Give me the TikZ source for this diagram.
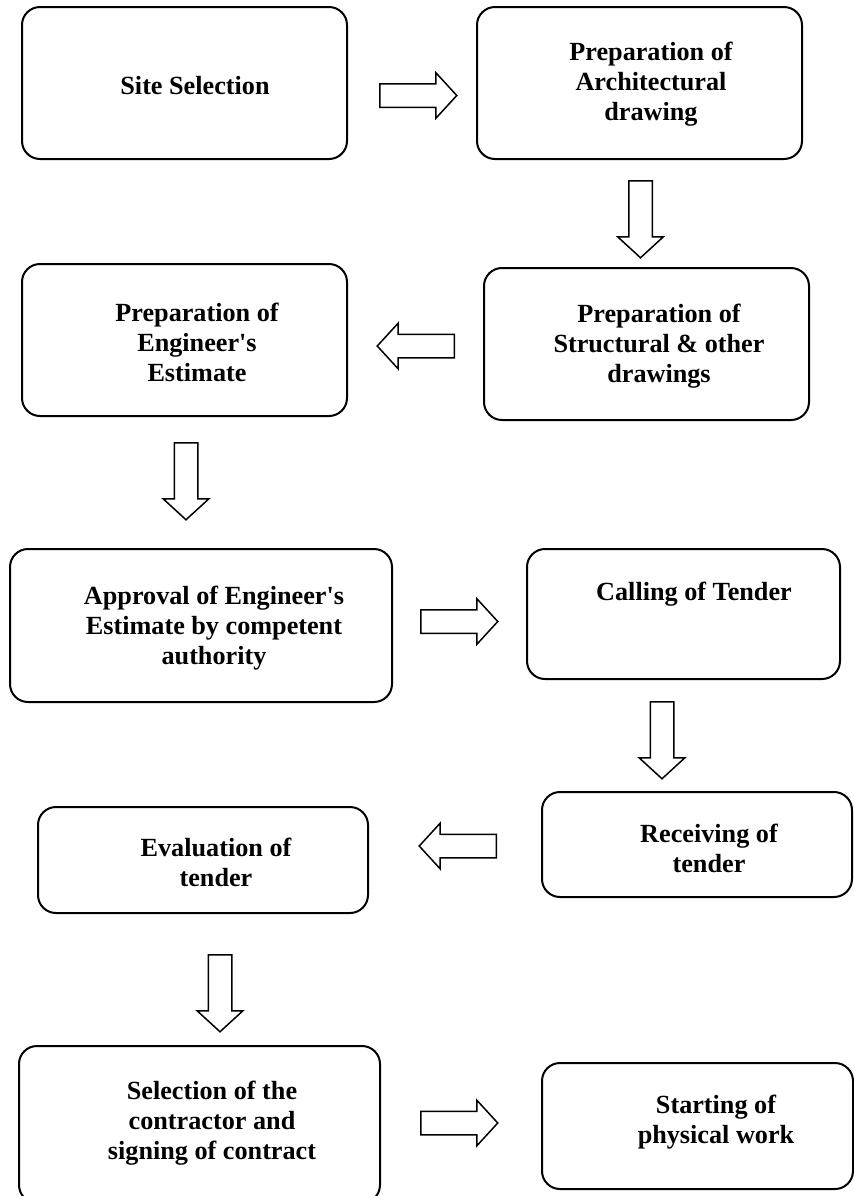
\documentclass[tikz,border=0pt]{standalone}
\usepackage{fontspec}
\setmainfont{Liberation Serif}
\usetikzlibrary{shapes.arrows}
\tikzset{
  stage/.style={draw, line width=1pt, rounded corners=9pt, inner sep=0pt},
  caption/.style={font=\bfseries\fontsize{13.1}{15}\selectfont, align=center, inner sep=0pt},
  hollow/.style={draw, fill=white, single arrow, line width=0.75pt, anchor=tail,
                 single arrow head extend=5.5pt, single arrow head indent=0pt,
                 single arrow tip angle=95, inner sep=5.5pt, minimum height=38.5pt},
}
\begin{document}
\begin{tikzpicture}[x=0.5pt, y=-0.5pt,
      down/.style={hollow, shape border rotate=270},
      back/.style={hollow, shape border rotate=180}]
  \path[fill=white, use as bounding box] (0,0) rectangle (854,1196);

  \node[stage, minimum width=162.5pt, minimum height=76pt]   (site)   at (184.5,83)   {};
  \node[stage, minimum width=162.5pt, minimum height=76pt]   (arch)   at (639.5,83)   {};
  \node[stage, minimum width=162.5pt, minimum height=76pt]   (struct) at (646.5,344)  {};
  \node[stage, minimum width=162.5pt, minimum height=76pt]   (est)    at (184.5,340)  {};
  \node[stage, minimum width=191pt,   minimum height=76.5pt] (appr)   at (201,625.5)  {};
  \node[stage, minimum width=156.5pt, minimum height=65pt]   (call)   at (683.5,614)  {};
  \node[stage, minimum width=155pt,   minimum height=52.5pt] (recv)   at (697,844.5)  {};
  \node[stage, minimum width=165pt,   minimum height=53pt]   (eval)   at (203,860)    {};
  \node[stage, minimum width=180.5pt, minimum height=78.5pt] (select) at (199.5,1124.5) {};
  \node[stage, minimum width=155.5pt, minimum height=63pt]   (start)  at (697.5,1126) {};

  \node[caption] (siteT)   at (195,86)   {Site Selection};
  \node[caption] (archT)   at (651,84)   {Preparation of\\Architectural\\drawing};
  \node[caption] (structT) at (659,346)  {Preparation of\\Structural \& other\\drawings};
  \node[caption] (estT)    at (197,342)  {Preparation of\\Engineer\textquotesingle s\\Estimate};
  \node[caption] (apprT)   at (214,628)  {Approval of Engineer\textquotesingle s\\Estimate by competent\\authority};
  \node[caption] (callT)   at (694,594)  {Calling of Tender};
  \node[caption] (recvT)   at (709,848)  {Receiving of\\tender};
  \node[caption] (evalT)   at (216,862)  {Evaluation of\\tender};
  \node[caption] (selectT) at (212,1123) {Selection of the\\contractor and\\signing of contract};
  \node[caption] (startT)  at (716,1122) {Starting of\\physical work};

  \node[hollow] (a1) at (379,95.5) {};
  \node[down]   (a2) at (640.5,180) {};
  \node[back]   (a3) at (455,346)   {};
  \node[down]   (a4) at (186,442)   {};
  \node[hollow] (a5) at (420,621.5) {};
  \node[down]   (a6) at (662,701)   {};
  \node[back]   (a7) at (497,846)   {};
  \node[down]   (a8) at (220,954)   {};
  \node[hollow] (a9) at (420,1123)  {};
\end{tikzpicture}
\end{document}
